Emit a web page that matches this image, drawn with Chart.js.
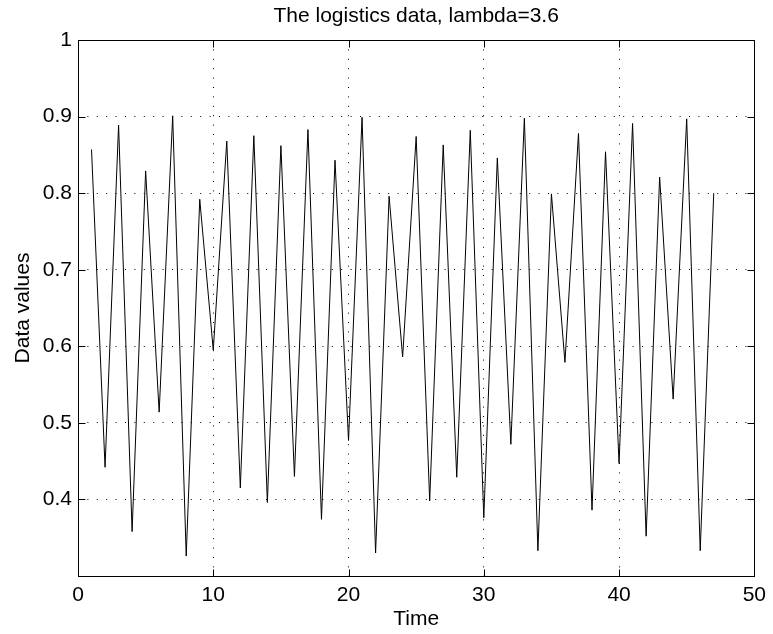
<!DOCTYPE html>
<html>
<head>
<meta charset="utf-8">
<script src="https://cdn.jsdelivr.net/npm/chart.js@4"></script>
<style>
  body { margin: 0; background: #fff; }
  #wrap { width: 773px; height: 634px; }
</style>
</head>
<body>
<div id="wrap"><canvas id="logisticsChart" width="773" height="634"></canvas></div>
<script>
// Time steps and the logistic map values
const timeSteps = [1, 2, 3, 4, 5, 6, 7, 8, 9, 10, 11, 12, 13, 14, 15, 16, 17, 18, 19, 20,
                   21, 22, 23, 24, 25, 26, 27, 28, 29, 30, 31, 32, 33, 34, 35, 36, 37, 38, 39, 40,
                   41, 42, 43, 44, 45, 46, 47];
const dataValues = [0.857, 0.442, 0.889, 0.358, 0.829, 0.514, 0.901, 0.326, 0.792, 0.595,
                    0.868, 0.415, 0.875, 0.396, 0.862, 0.430, 0.883, 0.374, 0.843, 0.477,
                    0.899, 0.330, 0.796, 0.586, 0.874, 0.398, 0.863, 0.429, 0.882, 0.376,
                    0.846, 0.472, 0.898, 0.333, 0.799, 0.579, 0.878, 0.386, 0.854, 0.447,
                    0.891, 0.352, 0.821, 0.531, 0.897, 0.333, 0.800];
const xTickValues = [0, 10, 20, 30, 40, 50];
const yTickValues = [0.3, 0.4, 0.5, 0.6, 0.7, 0.8, 0.9, 1];

const fontFamily = "'Liberation Sans', Arial, Helvetica, sans-serif";
const fontSize = 21;

// Draws the box around the plot and the inward tick marks (matlab style)
const frameAndTicks = {
    id: 'frameAndTicks',
    afterDraw(chart) {
        const ctx = chart.ctx;
        const area = chart.chartArea;
        const xs = chart.scales.x;
        const ys = chart.scales.y;
        const tickLen = 7;
        const L = Math.round(area.left) + 0.5;
        const R = Math.round(area.right) + 0.5;
        const T = Math.round(area.top) + 0.5;
        const B = Math.round(area.bottom) + 0.5;

        ctx.save();
        ctx.strokeStyle = '#000';
        ctx.lineWidth = 1;
        ctx.setLineDash([]);
        ctx.beginPath();
        xs.ticks.forEach(t => {
            const px = Math.round(xs.getPixelForValue(t.value)) + 0.5;
            ctx.moveTo(px, B);
            ctx.lineTo(px, B - tickLen);
            ctx.moveTo(px, T);
            ctx.lineTo(px, T + tickLen);
        });
        ys.ticks.forEach(t => {
            const py = Math.round(ys.getPixelForValue(t.value)) + 0.5;
            ctx.moveTo(L, py);
            ctx.lineTo(L + tickLen, py);
            ctx.moveTo(R, py);
            ctx.lineTo(R - tickLen, py);
        });
        ctx.stroke();
        ctx.strokeRect(L, T, R - L, B - T);
        ctx.restore();
    }
};

const ctx = document.getElementById('logisticsChart').getContext('2d');

new Chart(ctx, {
    type: 'line',
    data: {
        datasets: [{
            label: 'Data values',
            data: timeSteps.map((t, i) => ({ x: t, y: dataValues[i] })),
            borderColor: '#000',
            borderWidth: 1,
            pointRadius: 0,
            tension: 0,
            fill: false
        }]
    },
    options: {
        responsive: false,
        animation: false,
        events: [],
        layout: {
            padding: { left: 0, right: 14, top: 0, bottom: 0 }
        },
        plugins: {
            legend: { display: false },
            tooltip: { enabled: false },
            title: {
                display: true,
                fullSize: false,   // center over the plot, not the canvas
                text: 'The logistics data, lambda=3.6',
                color: '#000',
                font: { family: fontFamily, size: fontSize, weight: 'normal', lineHeight: 1.2 },
                padding: { top: 3.2, bottom: 11.6 }
            }
        },
        scales: {
            x: {
                type: 'linear',
                min: 0,
                max: 50,
                afterBuildTicks: scale => {
                    scale.ticks = xTickValues.map(v => ({ value: v }));
                },
                ticks: {
                    color: '#000',
                    padding: 7,
                    maxRotation: 0,
                    font: { family: fontFamily, size: fontSize },
                    callback: value => String(value)
                },
                grid: {
                    color: '#000',
                    lineWidth: 1,
                    drawTicks: false
                },
                border: { display: false, dash: [1, 8.4] },
                title: {
                    display: true,
                    text: 'Time',
                    color: '#000',
                    font: { family: fontFamily, size: fontSize, lineHeight: 1.2 },
                    padding: { top: 0, bottom: 2.2 }
                },
                afterFit: scale => { scale.height = 58; }
            },
            y: {
                type: 'linear',
                min: 0.3,
                max: 1,
                afterBuildTicks: scale => {
                    scale.ticks = yTickValues.map(v => ({ value: v }));
                },
                ticks: {
                    color: '#000',
                    padding: 6,
                    font: { family: fontFamily, size: fontSize },
                    // matlab leaves the bottom 0.3 tick unlabeled
                    callback: value => {
                        if (Math.abs(value - 0.3) < 1e-9) return '';
                        if (Math.abs(value - 1) < 1e-9) return '1';
                        return value.toFixed(1);
                    }
                },
                grid: {
                    color: '#000',
                    lineWidth: 1,
                    drawTicks: false
                },
                border: { display: false, dash: [1, 8.4] },
                title: {
                    display: true,
                    text: 'Data values',
                    color: '#000',
                    font: { family: fontFamily, size: fontSize, lineHeight: 1.2 },
                    padding: { top: 10.7, bottom: 0 }
                },
                afterFit: scale => { scale.width = 78; }
            }
        }
    },
    plugins: [frameAndTicks]
});
</script>
</body>
</html>
